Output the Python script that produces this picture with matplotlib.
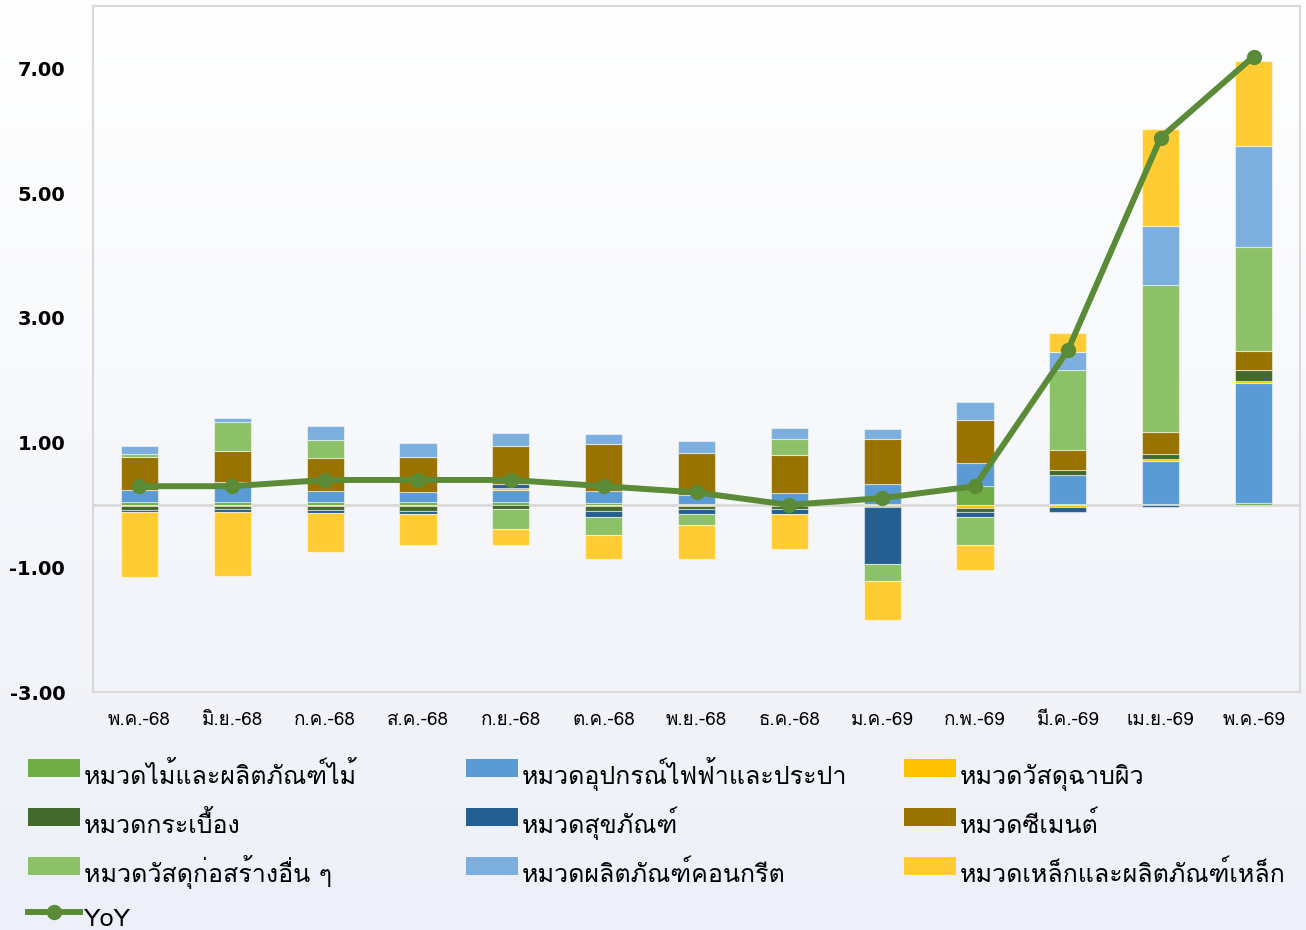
import numpy as np
import matplotlib
matplotlib.use("Agg")
import matplotlib.pyplot as plt
from matplotlib import font_manager
from matplotlib.ft2font import FT2Font
from matplotlib.patches import Rectangle
from matplotlib.lines import Line2D

# Months (Thai Buddhist-era short names)
months = ['พ.ค.-68', 'มิ.ย.-68', 'ก.ค.-68', 'ส.ค.-68', 'ก.ย.-68', 'ต.ค.-68', 'พ.ย.-68',
          'ธ.ค.-68', 'ม.ค.-69', 'ก.พ.-69', 'มี.ค.-69', 'เม.ย.-69', 'พ.ค.-69']

# Contribution of each category (percentage points)
wood = [0.04, 0.04, 0.04, 0.04, 0.04, 0.03, 0.02, 0.00, 0.01, 0.30, 0.01, 0.02, 0.03]
electric = [0.20, 0.33, 0.18, 0.165, 0.20, 0.20, 0.14, 0.19, 0.32, 0.37, 0.47, 0.69, 1.93]
surface = [-0.02, -0.02, -0.02, -0.02, 0.03, -0.02, -0.01, -0.02, -0.01, -0.05, -0.035, 0.03, 0.03]
tile = [-0.06, -0.05, -0.06, -0.07, -0.06, -0.08, -0.06, -0.04, -0.02, -0.065, 0.08, 0.075, 0.175]
sanitary = [-0.03, -0.05, -0.05, -0.06, 0.06, -0.09, -0.075, -0.085, -0.91, -0.085, -0.08, -0.04, 0.00]
cement = [0.53, 0.50, 0.53, 0.56, 0.62, 0.75, 0.67, 0.61, 0.73, 0.69, 0.315, 0.36, 0.31]
other = [0.04, 0.46, 0.29, 0.01, -0.33, -0.30, -0.18, 0.26, -0.28, -0.44, 1.285, 2.345, 1.665]
concrete = [0.13, 0.07, 0.22, 0.21, 0.20, 0.155, 0.19, 0.17, 0.155, 0.29, 0.29, 0.955, 1.61]
steel = [-1.05, -1.02, -0.63, -0.49, -0.26, -0.37, -0.54, -0.57, -0.63, -0.405, 0.30, 1.56, 1.365]
yoy = [0.30, 0.30, 0.40, 0.40, 0.40, 0.30, 0.20, 0.00, 0.11, 0.30, 2.48, 5.89, 7.19]

series = [
    ('หมวดไม้และผลิตภัณฑ์ไม้', wood, '#70AD47'),
    ('หมวดอุปกรณ์ไฟฟ้าและประปา', electric, '#5B9BD5'),
    ('หมวดวัสดุฉาบผิว', surface, '#FFC000'),
    ('หมวดกระเบื้อง', tile, '#43682B'),
    ('หมวดสุขภัณฑ์', sanitary, '#255E91'),
    ('หมวดซีเมนต์', cement, '#997300'),
    ('หมวดวัสดุก่อสร้างอื่น ๆ', other, '#8CC168'),
    ('หมวดผลิตภัณฑ์คอนกรีต', concrete, '#7CAFDD'),
    ('หมวดเหล็กและผลิตภัณฑ์เหล็ก', steel, '#FFCD33'),
]
yoy_color = '#5B8B37'


def find_thai_font():
    for f in font_manager.fontManager.ttflist:
        try:
            if FT2Font(f.fname).get_char_index(ord('ห')):
                return f.name
        except Exception:
            pass
    return None


thai = find_thai_font()
plt.rcParams['font.family'] = ([thai] if thai else []) + ['DejaVu Sans']

W, H = 1306, 930
fig = plt.figure(figsize=(W / 100, H / 100), dpi=100)

# background gradient
bg = fig.add_axes([0, 0, 1, 1], zorder=-10)
grad = np.linspace(0, 1, 256).reshape(-1, 1)
cmap = matplotlib.colors.LinearSegmentedColormap.from_list('bg', ['#FFFFFF', '#EDF0F8'])
bg.imshow(grad, aspect='auto', cmap=cmap, extent=[0, 1, 0, 1])
bg.axis('off')

ax = fig.add_axes([93 / W, 1 - 692 / H, 1207 / W, 686 / H])
ax.set_facecolor('none')

x = np.arange(len(months))
pos_base = np.zeros(len(months))
neg_base = np.zeros(len(months))
for name, vals, color in series:
    v = np.array(vals, dtype=float)
    base = np.where(v >= 0, pos_base, neg_base)
    ax.bar(x, v, 0.4, bottom=base, color=color, edgecolor=(1, 1, 1, 0.5), linewidth=0.8, zorder=2)
    pos_base += np.where(v >= 0, v, 0)
    neg_base += np.where(v < 0, v, 0)

ax.axhline(0, color='#D9D9D9', lw=2, zorder=1)
ax.plot(x, yoy, color=yoy_color, lw=4.3, marker='o', markersize=10, zorder=3)

ax.set_xlim(-0.5, len(months) - 0.5)
ax.set_ylim(-3, 8)
ax.set_yticks([-3, -1, 1, 3, 5, 7])
ax.set_yticklabels([f'{t:.2f}' for t in [-3, -1, 1, 3, 5, 7]], fontsize=14,
                   fontweight='bold', family='DejaVu Sans')
ax.set_xticks(x)
ax.set_xticklabels(months, fontsize=13.5)
ax.tick_params(length=0)
ax.tick_params(axis='y', pad=20)
ax.tick_params(axis='x', pad=14)
for s in ax.spines.values():
    s.set_color('#D9D9D9')
    s.set_linewidth(1.5)


# legend drawn by hand: three columns, rows at fixed heights (pixel coords)
def fx(px):
    return px / W


def fy(py):
    return 1 - py / H


col_x = [28, 466, 904]
row_y = [768, 817, 866, 912]
layout = [(0, 0), (1, 0), (2, 0), (0, 1), (1, 1), (2, 1), (0, 2), (1, 2), (2, 2)]
for (name, _, color), (c, r) in zip(series, layout):
    x0, yc = col_x[c], row_y[r]
    fig.add_artist(Rectangle((fx(x0), fy(yc + 9)), 52 / W, 18 / H, transform=fig.transFigure,
                             facecolor=color, edgecolor='none'))
    fig.text(fx(x0 + 56), fy(yc + 16), name, fontsize=18, va='baseline', ha='left')

x0, yc = col_x[0], row_y[3]
fig.add_artist(Line2D([fx(x0), fx(x0 + 52)], [fy(yc), fy(yc)], transform=fig.transFigure,
                      color=yoy_color, lw=4.3))
fig.add_artist(Line2D([fx(x0 + 26)], [fy(yc)], transform=fig.transFigure,
                      color=yoy_color, marker='o', markersize=10))
fig.text(fx(x0 + 56), fy(yc + 14), 'YoY', fontsize=18, va='baseline', ha='left')

fig.savefig('out.png', dpi=100)
